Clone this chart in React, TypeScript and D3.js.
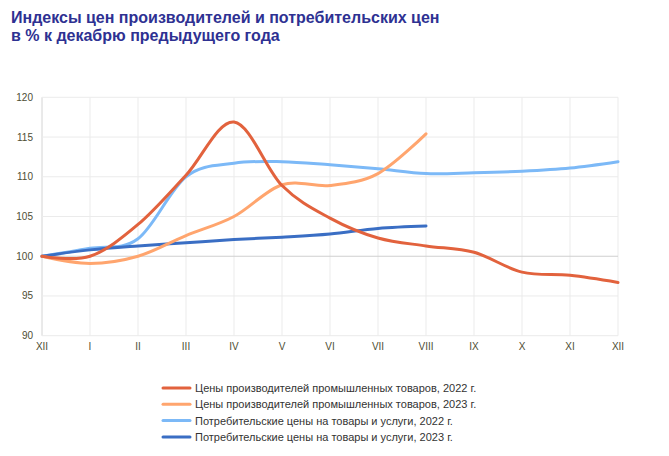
import React from "react";
import * as d3 from "d3";

const months = ["XII", "I", "II", "III", "IV", "V", "VI", "VII", "VIII", "IX", "X", "XI", "XII"];
const yTicks = [90, 95, 100, 105, 110, 115, 120];

const ppi2022 = [100, 100.0, 104.0, 110.2, 116.9, 108.9, 104.8, 102.3, 101.3, 100.5, 98.0, 97.6, 96.7];
const ppi2023 = [100, 99.1, 100.0, 102.6, 105.0, 109.0, 108.9, 110.4, 115.4];
const cpi2022 = [100, 101.0, 102.2, 110.0, 111.7, 111.9, 111.5, 111.0, 110.4, 110.5, 110.7, 111.1, 111.9];
const cpi2023 = [100, 100.8, 101.3, 101.7, 102.1, 102.4, 102.8, 103.5, 103.8];

const seriesNames = [
  "Цены производителей промышленных товаров, 2022 г.",
  "Цены производителей промышленных товаров, 2023 г.",
  "Потребительские цены на товары и услуги, 2022 г.",
  "Потребительские цены на товары и услуги, 2023 г.",
];
const seriesColors = ["#e2623d", "#ffa56e", "#7cb9f7", "#3a6ec4"];
const seriesData = [ppi2022, ppi2023, cpi2022, cpi2023];

export default function App() {
  const W = 669, H = 456;
  const left = 42, right = 618, top = 97.3, bottom = 335.7;
  const x = d3.scaleLinear().domain([0, 12]).range([left, right]);
  const y = d3.scaleLinear().domain([90, 120]).range([bottom, top]);
  const line = d3
    .line<number>()
    .x((_, i) => x(i))
    .y((d) => y(d))
    .curve(d3.curveCardinal.tension(0));
  const font = "'Liberation Sans', Arial, sans-serif";
  const order = [2, 3, 1, 0];
  return (
    <svg width={W} height={H} style={{ position: "absolute", left: 0, top: 0, background: "#fff" }} fontFamily={font}>
      <text x={11} y={23} fontSize={16} fontWeight="bold" fill="#2e3192">Индексы цен производителей и потребительских цен</text>
      <text x={11} y={41} fontSize={16} fontWeight="bold" fill="#2e3192">в % к декабрю предыдущего года</text>
      {months.map((m, i) => (
        <line key={"vg" + i} x1={x(i)} x2={x(i)} y1={top} y2={bottom} stroke={i === 0 ? "#d4d4d4" : "#ebebeb"} strokeWidth={1} />
      ))}
      {yTicks.map((t) => (
        <line key={"hg" + t} x1={left} x2={right} y1={y(t)} y2={y(t)} stroke={t === 100 ? "#cfcfcf" : "#ebebeb"} strokeWidth={t === 100 ? 1.2 : 1} />
      ))}
      {yTicks.map((t) => (
        <text key={"yl" + t} x={33} y={y(t) + 3.5} fontSize={10} textAnchor="end" fill="#4d4d33">{t}</text>
      ))}
      {months.map((m, i) => (
        <text key={"xl" + i} x={x(i)} y={350} fontSize={10} textAnchor="middle" fill="#4d4d33">{m}</text>
      ))}
      {order.map((k) => (
        <path key={"s" + k} d={line(seriesData[k]) || ""} fill="none" stroke={seriesColors[k]} strokeWidth={3} strokeLinecap="round" strokeLinejoin="round" />
      ))}
      {seriesNames.map((n, i) => (
        <g key={"lg" + i}>
          <line x1={163} x2={190} y1={388 + i * 16.3} y2={388 + i * 16.3} stroke={seriesColors[i]} strokeWidth={3} strokeLinecap="round" />
          <text x={195} y={392 + i * 16.3} fontSize={11} fill="#333">{n}</text>
        </g>
      ))}
    </svg>
  );
}
